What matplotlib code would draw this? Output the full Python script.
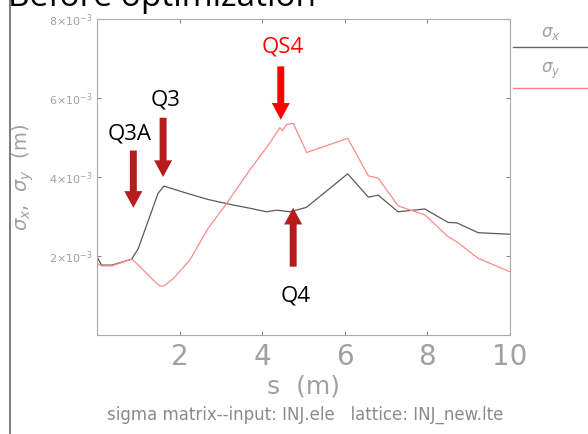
import matplotlib.pyplot as plt
from matplotlib.lines import Line2D

# beam sizes along the line
s_x = [0.0, 0.11, 0.36, 0.84, 1.0, 1.48, 1.62, 2.17, 2.69, 3.3, 3.7, 4.1, 4.35, 4.67, 5.07,
       6.07, 6.57, 6.81, 7.29, 7.94, 8.5, 8.71, 9.23, 10.0]
sigma_x = [1.98, 1.77, 1.77, 1.92, 2.19, 3.59, 3.77, 3.59, 3.43, 3.29, 3.21, 3.12, 3.16, 3.12, 3.23,
           4.08, 3.49, 3.54, 3.12, 3.19, 2.85, 2.84, 2.59, 2.55]
s_y = [0.0, 0.11, 0.36, 0.84, 0.96, 1.44, 1.53, 1.62, 1.85, 2.25, 2.69, 3.14, 3.7, 4.15,
       4.43, 4.49, 4.59, 4.75, 5.08, 6.07, 6.57, 6.81, 7.29, 7.94, 8.5, 8.71, 9.23, 10.0]
sigma_y = [1.81, 1.75, 1.75, 1.92, 1.81, 1.31, 1.24, 1.24, 1.43, 1.90, 2.70, 3.33, 4.18, 4.81,
           5.25, 5.17, 5.33, 5.36, 4.62, 4.98, 4.03, 3.97, 3.27, 3.04, 2.49, 2.36, 1.94, 1.60]

# element markers: (label, s, arrow start, arrow end, label y) in data units (1e-3 m)
markers = [
    ("Q3A", 0.88, 4.67, 3.22, 5.09),
    ("Q3", 1.6, 5.5, 4.0, 5.95),
    ("QS4", 4.45, 6.8, 5.45, 7.3),
    ("Q4", 4.75, 1.73, 3.22, 0.98),
]
marker_colors = ["#b71c1c", "#b71c1c", "#ff0000", "#b71c1c"]
label_colors = ["black", "black", "#ff0000", "black"]

yticks = [2, 4, 6, 8]
xticks = [2, 4, 6, 8, 10]
grey = "#a0a0a0"

fig = plt.figure(figsize=(5.88, 4.34), dpi=100)
ax = fig.add_axes([97 / 588, 99 / 434, 413 / 588, 316 / 434])

ax.plot(s_x, sigma_x, color="#5a5a5a", lw=0.9)
ax.plot(s_y, sigma_y, color="#ff8a8a", lw=0.9)

for (name, s, y0, y1, ylab), mc, lc in zip(markers, marker_colors, label_colors):
    ax.annotate("", xy=(s, y1), xytext=(s, y0),
                arrowprops=dict(arrowstyle="simple,head_length=1.2,head_width=1.3,tail_width=0.5",
                                color=mc, lw=0, shrinkA=0, shrinkB=0))
    ax.text(s + 0.05 if name != "Q3A" else s - 0.1, ylab, name, color=lc, fontsize=16,
            family="Open Sans", ha="center", va="center")

ax.set_xlim(0, 10)
ax.set_ylim(0, 8)
ax.set_xticks(xticks)
ax.set_xticklabels([str(t) for t in xticks], fontsize=20, color=grey)
ax.set_yticks(yticks)
ax.set_yticklabels([r"$%d{\times}10^{-3}$" % t for t in yticks], fontsize=8, color=grey)
ax.tick_params(direction="in", length=3, color="#888888", top=True, right=True, pad=6)
ax.tick_params(axis="y", pad=3)
for sp in ax.spines.values():
    sp.set_color("#aaaaaa")

ax.set_xlabel("s  (m)", fontsize=18, color=grey, labelpad=2)
ax.set_ylabel(r"$\sigma_x$,  $\sigma_y$  (m)", fontsize=14, color=grey, labelpad=10)

# legend at right edge
fig.text(551 / 588, 1 - 33 / 434, r"$\sigma_x$", fontsize=12, color=grey, ha="center", va="center")
fig.add_artist(Line2D([513 / 588, 1], [1 - 47 / 434] * 2, color="#666666", lw=1))
fig.text(551 / 588, 1 - 71 / 434, r"$\sigma_y$", fontsize=12, color=grey, ha="center", va="center")
fig.add_artist(Line2D([513 / 588, 1], [1 - 88 / 434] * 2, color="#ff8080", lw=1))

fig.text(305 / 588, 1 - 415 / 434, "sigma matrix--input: INJ.ele   lattice: INJ_new.lte",
         fontsize=12, color="#8a8a8a", ha="center", va="center")

# slide title, clipped by the top edge
fig.text(8 / 588, 1 - 6 / 434, "Before optimization", fontsize=24, color="black",
         family="Open Sans", ha="left", va="baseline")
fig.add_artist(Line2D([10 / 588] * 2, [0, 1], color="#666666", lw=1.2))

fig.savefig("out.png", dpi=100)
